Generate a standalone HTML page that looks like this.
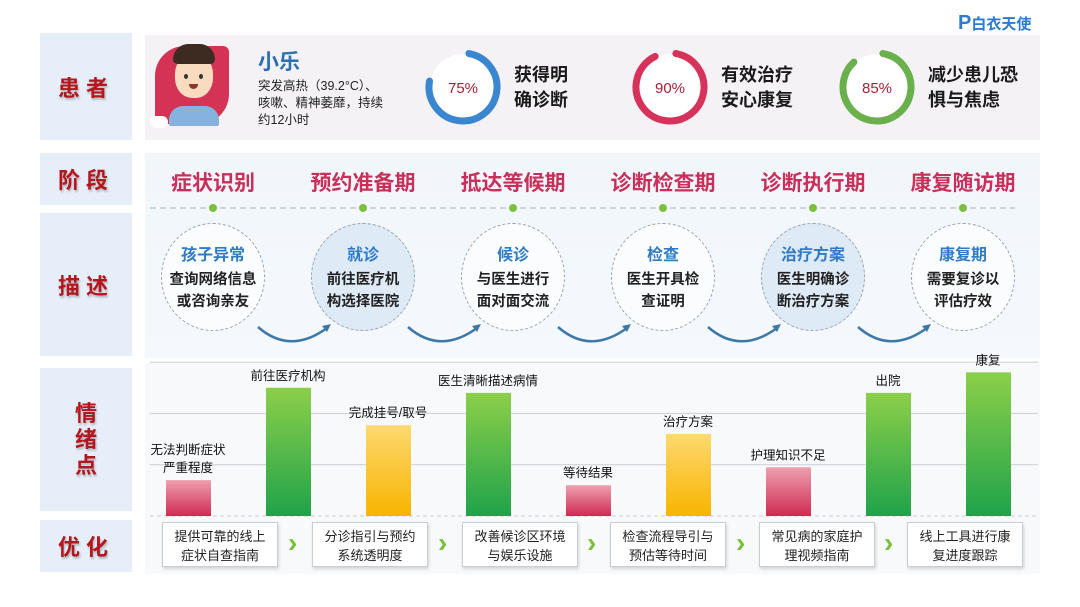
<!DOCTYPE html>
<html><head><meta charset="utf-8">
<style>
*{margin:0;padding:0;box-sizing:border-box}
body{width:1080px;height:607px;background:#fff;font-family:"Liberation Sans","Noto Sans CJK SC",sans-serif;position:relative;overflow:hidden}
.abs{position:absolute}
.lab{position:absolute;left:40px;width:92px;background:#e6eef9;display:flex;align-items:center;justify-content:center;color:#b5161d;font-weight:bold;font-size:22px;letter-spacing:6px;text-shadow:1px 2px 2px rgba(0,0,0,.25)}
.panel{position:absolute;left:145px;width:895px}
.stage{position:absolute;top:167px;width:150px;text-align:center;color:#c8305a;font-weight:bold;font-size:21px}
.circ{position:absolute;width:104px;height:108px;border-radius:50%;border:1px dashed #9aa3ad;text-align:center;background:#fbfcfe}
.circ .t{color:#2f7bc4;font-weight:bold;font-size:16px;margin-top:17px}
.circ .b{color:#222;font-size:14.5px;line-height:22px;margin-top:4px;font-weight:bold}
.opt{position:absolute;top:522px;width:116px;height:45px;border:1px solid #c9ced4;background:#fff;box-shadow:1px 2px 3px rgba(0,0,0,.15);font-size:13px;color:#222;text-align:center;line-height:19px;padding-top:4px}
.chev{position:absolute;top:527px;color:#7bbf3a;font-size:28px;font-weight:bold}
.ringtxt{position:absolute;font-size:18px;font-weight:bold;color:#1a1a1a;line-height:25px}
</style></head><body>
<div class="abs" style="left:958px;top:12px;color:#2a7bd1;font-weight:bold;font-size:15px"><span style="font-size:20px">P</span>白衣天使</div>

<div class="lab" style="top:33px;height:107px">患者</div>
<div class="lab" style="top:153px;height:52px">阶段</div>
<div class="lab" style="top:213px;height:143px">描述</div>
<div class="lab" style="top:368px;height:143px;line-height:26px;text-align:center;letter-spacing:0">情<br>绪<br>点</div>
<div class="lab" style="top:520px;height:52px">优化</div>

<div class="panel" style="top:35px;height:105px;background:#f4f2f5"></div>
<div class="panel" style="top:153px;height:205px;background:linear-gradient(#f1f6fb,#f5f9fd)"></div>
<div class="panel" style="top:362px;height:212px;background:#f7f9fb"></div>

<div class="abs" style="left:153px;top:44px;width:78px;height:82px">
<div class="abs" style="left:2px;top:2px;width:74px;height:78px;background:#d53355;border-radius:30px 6px 30px 6px"></div>
<div class="abs" style="left:16px;top:62px;width:50px;height:20px;background:#86b2e0;border-radius:14px 14px 2px 2px"></div>
<div class="abs" style="left:22px;top:10px;width:38px;height:44px;background:#f9dcc0;border-radius:45%"></div>
<div class="abs" style="left:20px;top:0px;width:42px;height:20px;background:#3d2b22;border-radius:20px 20px 6px 6px"></div>
<div class="abs" style="left:31px;top:30px;width:4px;height:5px;background:#333;border-radius:50%"></div>
<div class="abs" style="left:46px;top:30px;width:4px;height:5px;background:#333;border-radius:50%"></div>
<div class="abs" style="left:36px;top:40px;width:9px;height:5px;background:#8b3a2a;border-radius:0 0 6px 6px"></div>
<div class="abs" style="left:-3px;top:72px;width:18px;height:12px;background:#fff;border-radius:6px"></div>
</div>
<div class="abs" style="left:258px;top:46px;color:#2f6fb0;font-size:21px;font-weight:bold">小乐</div>
<div class="abs" style="left:258px;top:78px;font-size:12.5px;line-height:17px;color:#222;white-space:nowrap">突发高热（39.2°C）、<br>咳嗽、精神萎靡，持续<br>约12小时</div>

<svg class="abs" style="left:0;top:0" width="1080" height="607">
<g><circle cx="463" cy="87" r="33" fill="#fff"/><circle cx="463" cy="87" r="34" fill="none" stroke="#3a86d0" stroke-width="7" stroke-linecap="round" stroke-dasharray="160 214" transform="rotate(-80 463 87)"/><text x="463" y="93" text-anchor="middle" font-size="15" fill="#a81f36">75%</text></g>
<g><circle cx="670" cy="87" r="33" fill="#fff"/><circle cx="670" cy="87" r="34" fill="none" stroke="#d6335b" stroke-width="7" stroke-linecap="round" stroke-dasharray="192 214" transform="rotate(-80 670 87)"/><text x="670" y="93" text-anchor="middle" font-size="15" fill="#a81f36">90%</text></g>
<g><circle cx="877" cy="87" r="33" fill="#fff"/><circle cx="877" cy="87" r="34" fill="none" stroke="#6ab04c" stroke-width="7" stroke-linecap="round" stroke-dasharray="182 214" transform="rotate(-80 877 87)"/><text x="877" y="93" text-anchor="middle" font-size="15" fill="#a81f36">85%</text></g>
<line x1="150" y1="208" x2="1015" y2="208" stroke="#aab3bc" stroke-dasharray="6 4"/>
<g fill="#7cbf3f">
<circle cx="213" cy="208" r="4"/><circle cx="363" cy="208" r="4"/><circle cx="513" cy="208" r="4"/><circle cx="663" cy="208" r="4"/><circle cx="813" cy="208" r="4"/><circle cx="963" cy="208" r="4"/></g>
<g fill="none" stroke="#3e78a8" stroke-width="2.5">
<path d="M258 327 Q290 355 327 328"/><path d="M408 327 Q440 355 477 328"/><path d="M558 327 Q590 355 627 328"/><path d="M708 327 Q740 355 777 328"/><path d="M858 327 Q890 355 927 328"/>
</g>
<g fill="#3e78a8"><path d="M331 324 l-9 2 5 6z"/><path d="M481 324 l-9 2 5 6z"/><path d="M631 324 l-9 2 5 6z"/><path d="M781 324 l-9 2 5 6z"/><path d="M931 324 l-9 2 5 6z"/></g>
<g id="chart"></g>
</svg>
<div class="ringtxt" style="left:514px;top:63px">获得明<br>确诊断</div>
<div class="ringtxt" style="left:721px;top:63px">有效治疗<br>安心康复</div>
<div class="ringtxt" style="left:928px;top:63px">减少患儿恐<br>惧与焦虑</div>

<div class="stage" style="left:138px">症状识别</div>
<div class="stage" style="left:288px">预约准备期</div>
<div class="stage" style="left:438px">抵达等候期</div>
<div class="stage" style="left:588px">诊断检查期</div>
<div class="stage" style="left:738px">诊断执行期</div>
<div class="stage" style="left:888px">康复随访期</div>

<div class="circ" style="left:161px;top:223px"><div class="t">孩子异常</div><div class="b">查询网络信息<br>或咨询亲友</div></div>
<div class="circ" style="left:311px;top:223px;background:#dfeaf7"><div class="t">就诊</div><div class="b">前往医疗机<br>构选择医院</div></div>
<div class="circ" style="left:461px;top:223px"><div class="t">候诊</div><div class="b">与医生进行<br>面对面交流</div></div>
<div class="circ" style="left:611px;top:223px"><div class="t">检查</div><div class="b">医生开具检<br>查证明</div></div>
<div class="circ" style="left:761px;top:223px;background:#dfeaf7"><div class="t">治疗方案</div><div class="b">医生明确诊<br>断治疗方案</div></div>
<div class="circ" style="left:911px;top:223px"><div class="t">康复期</div><div class="b">需要复诊以<br>评估疗效</div></div>

<div class="opt" style="left:162px">提供可靠的线上<br>症状自查指南</div>
<div class="opt" style="left:312px">分诊指引与预约<br>系统透明度</div>
<div class="opt" style="left:462px">改善候诊区环境<br>与娱乐设施</div>
<div class="opt" style="left:610px">检查流程导引与<br>预估等待时间</div>
<div class="opt" style="left:759px">常见病的家庭护<br>理视频指南</div>
<div class="opt" style="left:907px">线上工具进行康<br>复进度跟踪</div>
<div class="chev" style="left:288px">›</div>
<div class="chev" style="left:438px">›</div>
<div class="chev" style="left:587px">›</div>
<div class="chev" style="left:736px">›</div>
<div class="chev" style="left:884px">›</div>

<script>
const categories=["无法判断症状|严重程度","前往医疗机构","完成挂号/取号","医生清晰描述病情","等待结果","治疗方案","护理知识不足","出院","康复"];
const values=[0.7,2.5,1.77,2.4,0.6,1.6,0.95,2.4,2.8];
const moods=["neg","pos","mid","pos","neg","mid","neg","pos","pos"];
const gridTicks=[0,1,2,3];
const NS="http://www.w3.org/2000/svg";
const g=document.getElementById('chart');
const y=v=>516-v*51.3;
const x=i=>188+i*100;
const defs=document.createElementNS(NS,'defs');
defs.innerHTML='<linearGradient id="gpos" x1="0" y1="0" x2="0" y2="1"><stop offset="0" stop-color="#8ccf4a"/><stop offset="1" stop-color="#1fa34a"/></linearGradient><linearGradient id="gmid" x1="0" y1="0" x2="0" y2="1"><stop offset="0" stop-color="#fdd970"/><stop offset="1" stop-color="#f8b400"/></linearGradient><linearGradient id="gneg" x1="0" y1="0" x2="0" y2="1"><stop offset="0" stop-color="#eea0b0"/><stop offset="1" stop-color="#cf2a52"/></linearGradient>';
g.appendChild(defs);
gridTicks.forEach(t=>{const l=document.createElementNS(NS,'line');


l.setAttribute('x1',150);l.setAttribute('x2',1038);l.setAttribute('y1',y(t));l.setAttribute('y2',y(t));l.setAttribute('stroke','#c9d0d8');l.setAttribute('stroke-dasharray',t===0?'4 3':'');g.appendChild(l);});
values.forEach((v,i)=>{const r=document.createElementNS(NS,'rect');


r.setAttribute('x',x(i)-22);r.setAttribute('width',45);r.setAttribute('y',y(v));r.setAttribute('height',516-y(v));r.setAttribute('fill','url(#g'+moods[i]+')');g.appendChild(r);
const lines=categories[i].split('|');
lines.forEach((s,k)=>{const t=document.createElementNS(NS,'text');


t.setAttribute('x',x(i));t.setAttribute('y',y(v)-8-(lines.length-1-k)*18);t.setAttribute('text-anchor','middle');t.setAttribute('font-size','12.5');t.setAttribute('fill','#111');t.textContent=s;g.appendChild(t);});
});
</script>
</body></html>
